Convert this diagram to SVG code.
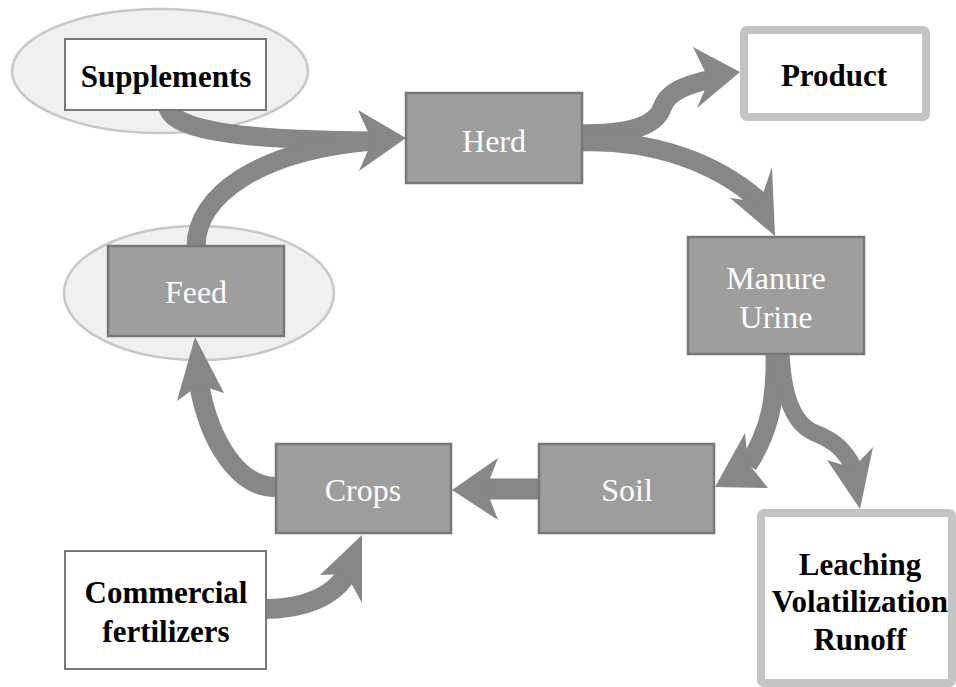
<svg xmlns="http://www.w3.org/2000/svg" width="956" height="687" viewBox="0 0 956 687">
<style>
.bg{fill:#ffffff}
.ell{fill:#f0f0f0;stroke:#c8c8c8;stroke-width:2.5}
.dark{fill:#9e9e9e;stroke:#787878;stroke-width:2.5}
.white{fill:#ffffff;stroke:#787878;stroke-width:2}
.out{fill:#ffffff;stroke:#c4c4c4;stroke-width:8}
.shaft{fill:none;stroke:#878787;stroke-width:19;stroke-linecap:butt}
.head{fill:#878787}
.lt{fill:#ffffff;font-family:"Liberation Serif","Times New Roman",serif;font-size:32px;text-anchor:middle}
.bk{fill:#000000;font-family:"Liberation Serif","Times New Roman",serif;font-size:31px;font-weight:bold;text-anchor:middle}
</style>
<rect class="bg" x="0" y="0" width="956" height="687"/>
<g id="highlights">
<ellipse class="ell" cx="160" cy="71" rx="148" ry="62"/>
<ellipse class="ell" cx="199" cy="293" rx="135" ry="67"/>
</g>
<g id="connectors">
<path class="shaft" d="M168,108 C175,132 250,140 374,141"/>
<path class="shaft" d="M196,247 C196,195 260,150 374,141"/>
<polygon class="head" points="406,138 358,110 372,141 359,171"/>
<path class="shaft" d="M580,134 C625,134 655,128 662,108 C668,90 690,84 712,79"/>
<polygon class="head" points="740,72 693,47 709,80 697,108"/>
<path class="shaft" d="M580,142 C650,140 715,160 763,204"/>
<polygon class="head" points="775,236 772,167 760,202 730,198"/>
<path class="shaft" d="M775,352 C776,400 770,430 748,465"/>
<polygon class="head" points="715,487 745,433 748,463 768,488"/>
<path class="shaft" d="M781,352 C783,400 795,425 815,433 C835,441 845,450 855,470" style="stroke-width:17"/>
<polygon class="head" points="860,509 827,460 853,468 873,447"/>
<path class="shaft" d="M540,489 L484,489" style="stroke-width:21"/>
<polygon class="head" points="452,490 498,458 486,489 498,520"/>
<path class="shaft" d="M275,487 C240,487 210,445 199,384" style="stroke-width:20"/>
<polygon class="head" points="195,337 224,393 199,385 177,401"/>
<path class="shaft" d="M266,609 C300,609 335,598 348,571" style="stroke-width:20"/>
<polygon class="head" points="362,535 362,603 346,574 320,575"/>
</g>
<g id="supplements">
<rect class="white" x="65" y="39" width="201" height="71"/>
<text class="bk" x="166" y="87">Supplements</text>
</g>
<g id="herd">
<rect class="dark" x="406" y="93" width="176" height="90"/>
<text class="lt" x="494" y="152">Herd</text>
</g>
<g id="product">
<rect class="out" x="744" y="30" width="182" height="87" rx="3"/>
<text class="bk" x="834" y="86">Product</text>
</g>
<g id="manure">
<rect class="dark" x="688" y="237" width="176" height="117"/>
<text class="lt" x="776" y="289">Manure</text>
<text class="lt" x="776" y="328">Urine</text>
</g>
<g id="feed">
<rect class="dark" x="108" y="246" width="176" height="90"/>
<text class="lt" x="196" y="303">Feed</text>
</g>
<g id="crops">
<rect class="dark" x="276" y="444" width="175" height="89"/>
<text class="lt" x="363" y="501">Crops</text>
</g>
<g id="soil">
<rect class="dark" x="539" y="444" width="175" height="89"/>
<text class="lt" x="627" y="501">Soil</text>
</g>
<g id="commercial">
<rect class="white" x="65" y="551" width="201" height="118"/>
<text class="bk" x="166" y="603">Commercial</text>
<text class="bk" x="166" y="642">fertilizers</text>
</g>
<g id="losses">
<rect class="out" x="761" y="513" width="191" height="170" rx="3"/>
<text class="bk" x="860" y="575">Leaching</text>
<text class="bk" x="860" y="612">Volatilization</text>
<text class="bk" x="860" y="650">Runoff</text>
</g>
</svg>
